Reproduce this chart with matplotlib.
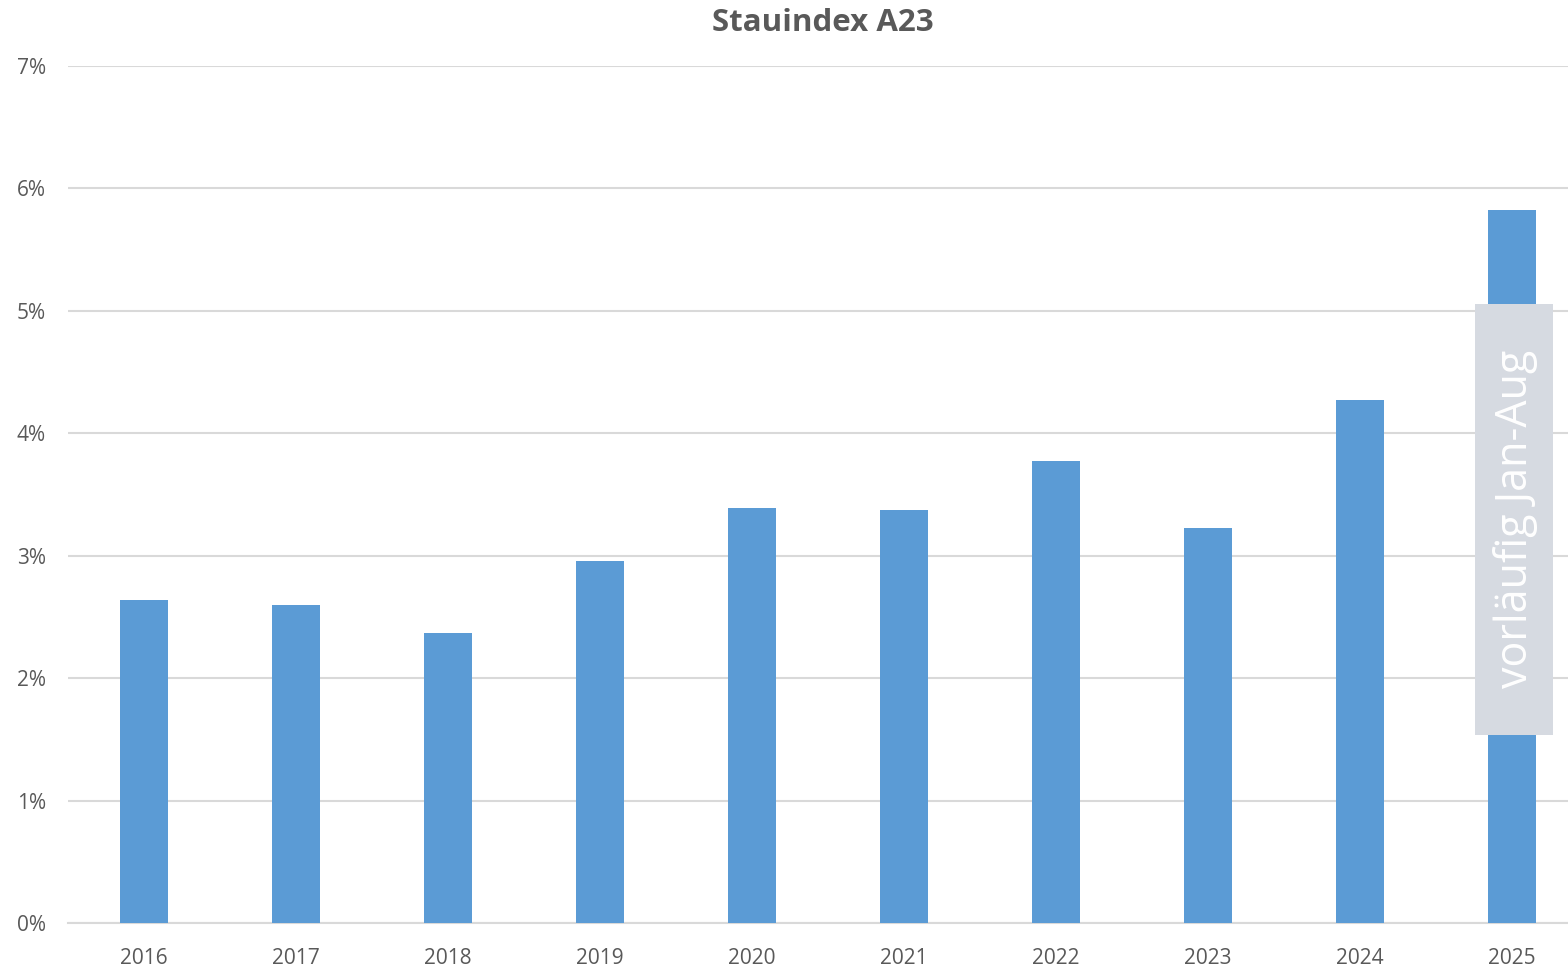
import matplotlib.pyplot as plt
from matplotlib.patches import Rectangle
from matplotlib.ticker import PercentFormatter

years = ['2016', '2017', '2018', '2019', '2020', '2021', '2022', '2023', '2024', '2025']
stauindex = [2.64, 2.60, 2.37, 2.96, 3.39, 3.37, 3.77, 3.23, 4.27, 5.82]

plt.rcParams['font.family'] = ['Open Sans', 'DejaVu Sans']
grey = '#595959'

fig = plt.figure(figsize=(15.68, 9.68), dpi=100)
# plot area runs past the right edge, as in the original
ax = fig.add_axes([68 / 1568, 45 / 968, 1520 / 1568, 857 / 968])

ax.bar(range(len(years)), stauindex, width=0.315, color='#5b9bd5', zorder=3)
ax.set_xlim(-0.5, len(years) - 0.5)
ax.set_ylim(0, 7)
ax.set_yticks(range(0, 8))
ax.yaxis.set_major_formatter(PercentFormatter(decimals=0))
ax.set_xticks(range(len(years)))
ax.set_xticklabels(years)

ax.grid(axis='y', color='#d9d9d9', linewidth=1.5, zorder=0)
for s in ['top', 'right', 'left']:
    ax.spines[s].set_visible(False)
ax.spines['bottom'].set_color('#d9d9d9')
ax.spines['bottom'].set_linewidth(1.5)
ax.tick_params(axis='y', length=0, pad=16, labelsize=15, labelcolor=grey)
ax.tick_params(axis='x', length=0, pad=18, labelsize=15, labelcolor=grey)

fig.text(823 / 1568, 1 - 23 / 968, 'Stauindex A23', ha='center', va='center',
         fontsize=22.5, fontweight='bold', color=grey)

# note box for the preliminary 2025 value
fig.patches.append(Rectangle((1475 / 1568, 1 - 735 / 968), 78 / 1568, 431 / 968,
                             transform=fig.transFigure, facecolor='#d6dae1',
                             edgecolor='none', zorder=5))
fig.text(1516 / 1568, 1 - 519 / 968, 'vorläufig Jan-Aug', rotation=90,
         ha='center', va='center', fontsize=31, color='white', zorder=6)

fig.savefig('out.png', dpi=100)
